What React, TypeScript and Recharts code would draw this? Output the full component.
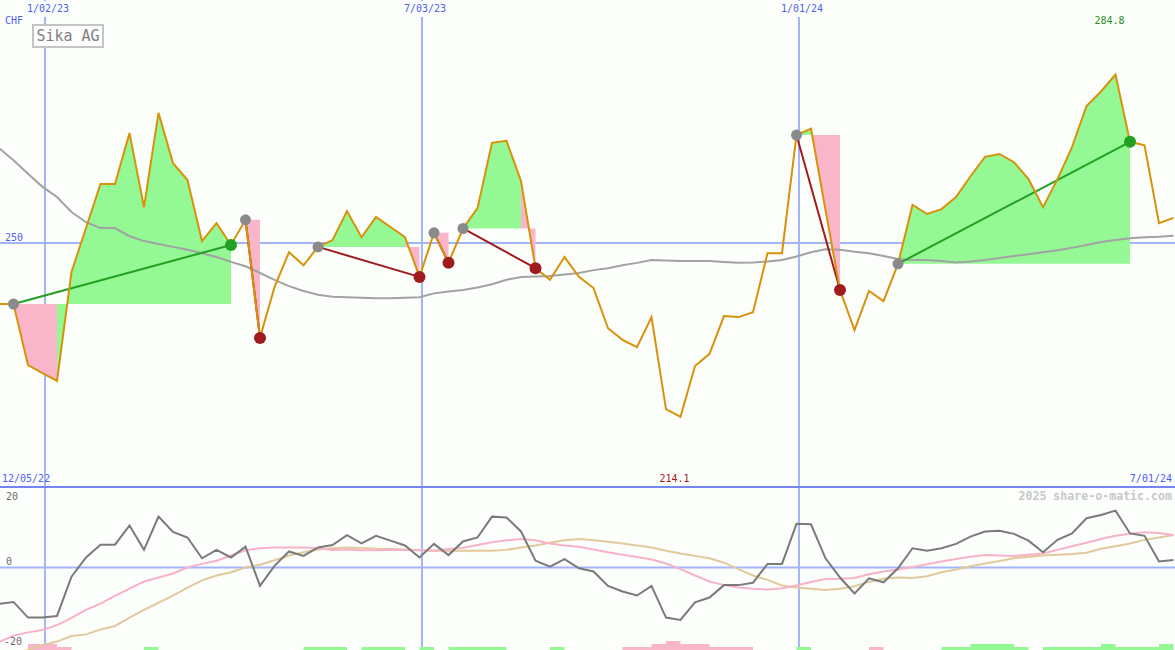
import React from 'react';
import { ComposedChart, Line, Area, XAxis, YAxis, CartesianGrid } from 'recharts';

const W = 1175;
const TOP_H = 487;
const BOTTOM_H = 163;

// weekly closes, first entry is week -1
const price = [
  237.4,
  237.4, 224.8, 223.1, 221.5, 244.0, 253.1, 262.2, 262.2, 272.7, 257.4,
  276.9, 266.5, 263.0, 250.4, 254.1, 249.6, 254.8, 230.4, 240.9, 248.1,
  245.4, 249.2, 250.6, 256.6, 251.2, 255.4, 253.3, 251.2, 243.0, 252.1,
  245.9, 253.0, 257.2, 270.7, 271.1, 262.8, 244.8, 242.4, 247.1, 243.0,
  240.7, 232.4, 230.0, 228.5, 234.7, 215.7, 214.1, 224.6, 227.1, 234.9,
  234.7, 235.7, 247.9, 247.9, 272.3, 273.6, 256.8, 240.3, 232.0, 240.1,
  238.0, 245.7, 257.9, 256.0, 257.0, 259.5, 263.8, 267.8, 268.4, 266.7,
  263.2, 257.4, 263.2, 269.8, 278.3, 281.3, 284.8, 270.9, 270.2, 254.1,
  255.2,
];

const movingAvg = [
  269.6,
  267.1, 264.3, 261.6, 259.5, 256.4, 254.3, 253.1, 253.1, 251.4, 250.4,
  249.8, 249.2, 248.6, 247.9, 247.1, 246.1, 245.2, 243.8, 242.4, 241.1,
  240.1, 239.3, 238.9, 238.8, 238.7, 238.6, 238.6, 238.7, 238.8, 239.6,
  240.0, 240.3, 240.8, 241.5, 242.4, 243.0, 243.1, 243.2, 243.5, 243.8,
  244.4, 244.8, 245.4, 245.9, 246.5, 246.4, 246.3, 246.3, 246.3, 246.1,
  245.9, 246.0, 246.2, 246.5, 247.2, 248.1, 248.7, 248.6, 248.2, 247.9,
  247.3, 246.7, 246.5, 246.5, 246.3, 246.0, 246.2, 246.5, 246.9, 247.3,
  247.7, 248.1, 248.5, 249.0, 249.6, 250.2, 250.6, 251.0, 251.2, 251.3,
  251.5,
];

const osc = [
  -9.1,
  -8.6, -12.5, -12.5, -12.1, -2.3, 2.5, 5.7, 5.7, 10.5, 4.4,
  12.7, 8.9, 7.5, 2.3, 4.4, 2.5, 5.2, -4.6, 0.4, 4.0,
  2.9, 5.0, 5.6, 8.1, 6.0, 7.9, 6.7, 5.5, 2.5, 5.9,
  3.1, 6.5, 7.5, 12.7, 12.5, 9.0, 1.7, 0.2, 2.1, -0.2,
  -1.0, -4.6, -6.0, -7.0, -4.6, -12.5, -13.1, -8.7, -7.5, -4.4,
  -4.4, -3.8, 0.9, 0.9, 10.9, 10.8, 2.3, -2.5, -6.5, -2.7,
  -3.7, -0.2, 4.8, 4.2, 4.8, 5.9, 7.7, 9.0, 9.2, 8.4,
  6.7, 3.8, 6.9, 8.5, 12.3, 13.1, 14.2, 8.5, 7.9, 1.5,
  1.9,
];

const oscFast = [
  -18.6,
  -17.0, -16.2, -15.6, -14.4, -12.6, -10.6, -9.0, -7.1, -5.3, -3.5,
  -2.5, -1.5, 0.0, 0.9, 1.7, 3.0, 4.3, 4.8, 5.0, 5.0,
  5.0, 4.8, 4.4, 4.5, 4.3, 4.3, 4.4, 4.4, 4.3, 4.2,
  4.6, 4.9, 5.6, 6.3, 6.8, 7.1, 6.8, 6.0, 5.5, 5.2,
  4.5, 3.8, 3.2, 2.6, 2.0, 1.0, -0.4, -2.0, -3.5, -4.4,
  -5.0, -5.3, -5.5, -5.2, -4.5, -3.6, -2.9, -2.8, -2.6, -1.7,
  -1.0, -0.5, 0.1, 0.8, 1.5, 2.1, 2.7, 3.1, 3.0, 2.9,
  3.2, 3.5, 4.4, 5.3, 6.2, 7.1, 7.9, 8.4, 8.8, 8.6,
  8.1,
];

const oscSlow = [
  -22.0,
  -21.5, -20.6, -19.4, -18.5, -17.1, -16.7, -15.5, -14.6, -12.5, -10.6,
  -8.8, -7.0, -5.0, -3.2, -2.0, -1.2, 0.0, 0.7, 1.8, 3.0,
  3.8, 4.5, 4.8, 5.0, 4.9, 4.7, 4.6, 4.5, 4.4, 4.2,
  4.2, 4.2, 4.2, 4.2, 4.4, 5.0, 5.5, 6.2, 6.8, 7.1,
  6.8, 6.4, 6.0, 5.5, 5.0, 4.2, 3.5, 2.9, 2.3, 1.2,
  -0.4, -2.0, -3.1, -4.5, -5.0, -5.3, -5.6, -5.3, -4.7, -3.6,
  -2.8, -2.5, -2.6, -2.2, -1.2, -0.5, 0.3, 1.0, 1.6, 2.3,
  2.7, 3.0, 3.2, 3.4, 3.7, 4.7, 5.3, 6.0, 6.9, 7.5,
  8.1,
];

const histUp = [
  0,
  0, 0, 0, 0, 0, 0, 0, 0, 0, 1,
  0, 0, 0, 0, 0, 0, 0, 0, 0, 0,
  1, 1, 1, 0, 1, 1, 1, 0, 1, 0,
  1, 1, 1, 1, 0, 0, 0, 1, 0, 0,
  0, 0, 0, 0, 0, 0, 0, 0, 0, 0,
  0, 0, 0, 0, 1, 0, 0, 0, 0, 0,
  0, 0, 0, 0, 1, 1, 2, 2, 2, 1,
  0, 1, 1, 1, 1, 2, 1, 1, 1, 2,
  2,
];

const histDown = [
  0,
  0, 2, 2, 1, 0, 0, 0, 0, 0, 0,
  0, 0, 0, 0, 0, 0, 0, 0, 0, 0,
  0, 0, 0, 0, 0, 0, 0, 0, 0, 0,
  0, 0, 0, 0, 0, 0, 0, 0, 0, 0,
  0, 0, 1, 1, 2, 3, 2, 2, 1, 1,
  1, 0, 0, 0, 0, 0, 0, 0, 0, 1,
  0, 0, 0, 0, 0, 0, 0, 0, 0, 0,
  0, 0, 0, 0, 0, 0, 0, 0, 0, 0,
  0,
];

// signals: week of entry and week of exit
const tradeEntry = [0, 16, 21, 29, 31, 54, 61];
const tradeExit = [15, 17, 28, 30, 36, 57, 77];

const dateLines = [2.17, 28.17, 54.17];
const dateLabels = ['1/02/23', '7/03/23', '1/01/24'];
const startLabel = '12/05/22';
const endLabel = '7/01/24';
const priceLevel = 250;
const oscLevels = [20, 0, -20];
const currency = 'CHF';
const title = 'Sika AG';

const xDomain = [-0.931, 80.103];
const priceDomain = [199.6, 300.2];
const oscDomain = [-20.6, 20.1];

const weeks = price.map((_, k) => k - 1);
const at = (w: number) => price[w + 1];

// split each trade into runs that end above / below the entry price
const fills: { from: number; to: number; base: number; up: boolean }[] = [];
tradeEntry.forEach((e, t) => {
  const x = tradeExit[t];
  const base = at(e);
  let start = e;
  let up: boolean | null = null;
  for (let w = e + 1; w <= x; w++) {
    const u = at(w) >= base;
    if (up === null) up = u;
    else if (u !== up) {
      fills.push({ from: start, to: w - 1, base, up });
      start = w - 1;
      up = u;
    }
  }
  fills.push({ from: start, to: x, base, up: !!up });
});

const rows = weeks.map((w, k) => {
  const r: any = {
    w,
    price: price[k],
    ma: movingAvg[k],
    osc: osc[k],
    oscFast: oscFast[k],
    oscSlow: oscSlow[k],
    histUp: histUp[k],
    histDown: histDown[k],
  };
  fills.forEach((f, i) => {
    r[`f${i}`] = w >= f.from && w <= f.to ? [f.base, price[k]] : null;
  });
  tradeEntry.forEach((e, t) => {
    r[`t${t}`] = w === e || w === tradeExit[t] ? price[k] : null;
  });
  const ti = tradeEntry.indexOf(w);
  r.entry = ti >= 0 ? price[k] : null;
  const xi = tradeExit.indexOf(w);
  const win = xi >= 0 && price[k] > at(tradeEntry[xi]);
  r.exitWin = xi >= 0 && win ? price[k] : null;
  r.exitLoss = xi >= 0 && !win ? price[k] : null;
  return r;
});

const xOf = (w: number) => ((w - xDomain[0]) / (xDomain[1] - xDomain[0])) * W;

const maxPrice = Math.max(...price);
const minPrice = Math.min(...price);
const maxWeek = weeks[price.indexOf(maxPrice)];
const minWeek = weeks[price.indexOf(minPrice)];

const BG = '#fcfefc';
const BLUE = '#4f5ff0';
const GRID = '#a4b4f8';
const MONO = '"DejaVu Sans Mono", "Liberation Mono", monospace';

function Txt({ x, y, color, size = 10, align = 'center', bold, bg, children }: any) {
  const shift = align === 'center' ? '-50%' : align === 'right' ? '-100%' : '0';
  return (
    <div
      style={{
        position: 'absolute',
        left: x,
        top: y - size * 0.62,
        transform: `translateX(${shift})`,
        fontFamily: MONO,
        fontSize: size,
        lineHeight: `${Math.round(size * 1.2)}px`,
        fontWeight: bold ? 'bold' : 'normal',
        color,
        whiteSpace: 'nowrap',
        background: bg,
        padding: bg ? '2px 1px' : 0,
        marginTop: bg ? -2 : 0,
      }}
    >
      {children}
    </div>
  );
}

export default function App() {
  return (
    <div style={{ position: 'relative', width: W, height: TOP_H + BOTTOM_H, background: BG, overflow: 'hidden' }}>
      <style>{'body{margin:0}'}</style>
      <div style={{ position: 'absolute', left: 0, top: 0 }}>
        <ComposedChart width={W} height={TOP_H} data={rows} margin={{ top: 0, right: 0, bottom: 0, left: 0 }}>
          <XAxis type="number" dataKey="w" domain={xDomain} hide allowDataOverflow />
          <YAxis type="number" domain={priceDomain} hide allowDataOverflow />
          <CartesianGrid horizontalValues={[priceLevel]} verticalValues={dateLines} stroke={GRID} strokeWidth={2} />
          {fills.map((f, i) => (
            <Area
              key={`f${i}`}
              type="linear"
              dataKey={`f${i}`}
              stroke="none"
              fill={f.up ? '#94f894' : '#f9b5c9'}
              fillOpacity={1}
              dot={false}
              activeDot={false}
              isAnimationActive={false}
            />
          ))}
          <Line type="linear" dataKey="ma" stroke="#a2a2a2" strokeWidth={2} dot={false} activeDot={false} isAnimationActive={false} />
          <Line
            dataKey="entry"
            stroke="none"
            dot={{ r: 5.5, fill: '#8a8a8a', stroke: 'none' }}
            activeDot={false}
            isAnimationActive={false}
          />
          {tradeEntry.map((e, t) => (
            <Line
              key={`t${t}`}
              type="linear"
              dataKey={`t${t}`}
              connectNulls
              stroke={at(tradeExit[t]) > at(e) ? '#22a022' : '#a01c1c'}
              strokeWidth={2}
              dot={false}
              activeDot={false}
              isAnimationActive={false}
            />
          ))}
          <Line type="linear" dataKey="price" stroke="#d8920a" strokeWidth={2} dot={false} activeDot={false} isAnimationActive={false} />
          <Line dataKey="exitWin" stroke="none" dot={{ r: 6, fill: '#22a022', stroke: 'none' }} activeDot={false} isAnimationActive={false} />
          <Line dataKey="exitLoss" stroke="none" dot={{ r: 6, fill: '#a01c1c', stroke: 'none' }} activeDot={false} isAnimationActive={false} />
        </ComposedChart>
      </div>

      <div style={{ position: 'absolute', left: 0, top: TOP_H }}>
        <ComposedChart width={W} height={BOTTOM_H} data={rows} margin={{ top: 0, right: 0, bottom: 0, left: 0 }}>
          <XAxis type="number" dataKey="w" domain={xDomain} hide allowDataOverflow />
          <YAxis type="number" domain={oscDomain} hide allowDataOverflow />
          <YAxis yAxisId="h" type="number" domain={[0, 54.3]} hide allowDataOverflow />
          <CartesianGrid horizontalValues={[0]} verticalValues={dateLines} stroke={GRID} strokeWidth={2} />
          <Area yAxisId="h" type="stepAfter" dataKey="histUp" stroke="none" fill="#94f894" fillOpacity={1} dot={false} activeDot={false} isAnimationActive={false} />
          <Area yAxisId="h" type="stepAfter" dataKey="histDown" stroke="none" fill="#f9b5c9" fillOpacity={1} dot={false} activeDot={false} isAnimationActive={false} />
          <Line type="linear" dataKey="oscSlow" stroke="#e2c99c" strokeWidth={2} dot={false} activeDot={false} isAnimationActive={false} />
          <Line type="linear" dataKey="oscFast" stroke="#f8b2c8" strokeWidth={2} dot={false} activeDot={false} isAnimationActive={false} />
          <Line type="linear" dataKey="osc" stroke="#7a7a7a" strokeWidth={2} dot={false} activeDot={false} isAnimationActive={false} />
        </ComposedChart>
      </div>

      <div style={{ position: 'absolute', left: 0, top: TOP_H - 1, width: W, height: 2, background: '#7484f0' }} />

      {dateLabels.map((d, i) => (
        <Txt key={d} x={xOf(dateLines[i]) + 3} y={9} color={BLUE} bg={BG}>
          {d}
        </Txt>
      ))}
      <Txt x={5} y={21} color={BLUE} align="left">{currency}</Txt>
      <div
        style={{
          position: 'absolute',
          left: 32,
          top: 24,
          width: 68,
          height: 20,
          border: '2px solid #c4c4c4',
          background: BG,
          fontFamily: MONO,
          fontSize: 15,
          lineHeight: '20px',
          color: '#808080',
          textAlign: 'center',
        }}
      >
        {title}
      </div>
      <Txt x={5} y={238} color={BLUE} align="left">{String(priceLevel)}</Txt>
      <Txt x={xOf(maxWeek) - 6} y={21} color="#229022">{maxPrice.toFixed(1)}</Txt>
      <Txt x={xOf(minWeek) - 6} y={479} color="#a01c1c">{minPrice.toFixed(1)}</Txt>
      <Txt x={2} y={479} color={BLUE} align="left">{startLabel}</Txt>
      <Txt x={1172} y={479} color={BLUE} align="right">{endLabel}</Txt>
      <Txt x={1172} y={496} color="#c8c8c8" size={11.6} bold align="right">2025 share-o-matic.com</Txt>
      <Txt x={6} y={497} color="#6a6a6a" align="left">{String(oscLevels[0])}</Txt>
      <Txt x={6} y={562} color="#6a6a6a" align="left">{String(oscLevels[1])}</Txt>
      <Txt x={4} y={642} color="#6a6a6a" align="left">{String(oscLevels[2])}</Txt>
    </div>
  );
}
